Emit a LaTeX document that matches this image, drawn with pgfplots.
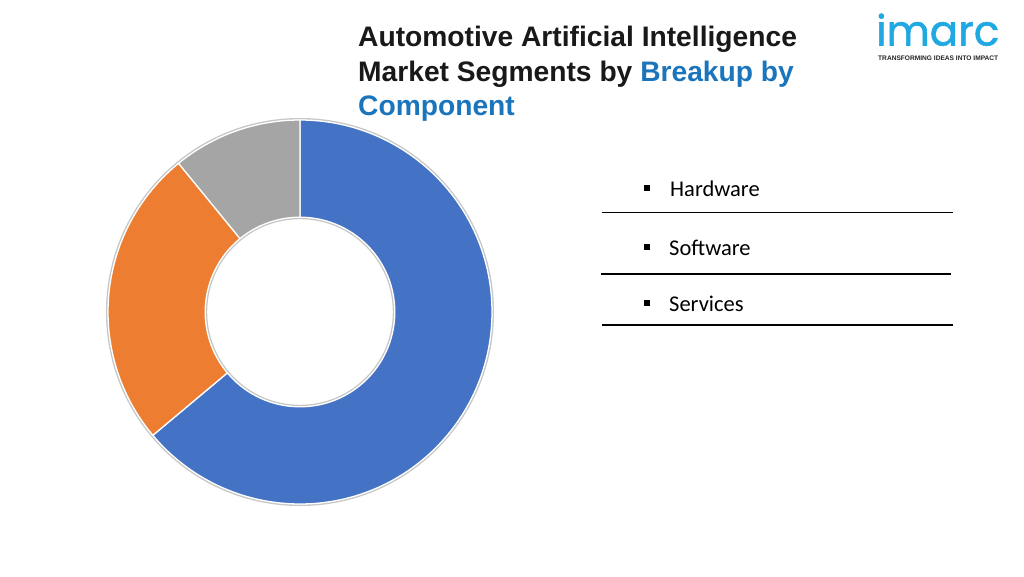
\documentclass[border=0pt]{standalone}
\usepackage{pgfplots}
\usepackage{pgfplotstable}
\pgfplotsset{compat=1.18}
\usepackage{fontspec}
\setmainfont{Liberation Sans}
\newfontfamily\legfont{Carlito}
\newfontfamily\logofont{Poppins}[FakeBold=1.3]

\definecolor{cHard}{HTML}{4472C4}
\definecolor{cSoft}{HTML}{ED7D31}
\definecolor{cServ}{HTML}{A5A5A5}
\definecolor{titleblue}{HTML}{1B75BC}
\definecolor{imarcblue}{HTML}{1FA8E1}

% share of each component, in percent, clockwise from 12 o'clock
\pgfplotstableread{
label    value color
Hardware 63.9  cHard
Software 25.2  cSoft
Services 10.9  cServ
}\segments

\begin{document}
\begin{tikzpicture}
\begin{axis}[
    scale only axis,
    width=1024bp, height=576bp,
    xmin=0, xmax=1024, ymin=0, ymax=576,
    y dir=reverse,   % pixel-like coordinates, origin top left
    hide axis, clip=false,
  ]
  \pgfplotsextra{
    \fill[white] (axis cs:0,0) rectangle (axis cs:1024,576);
    % donut
    \begin{scope}[shift={(axis cs:300,312)}]
      \draw[gray!45, line width=1.6bp] (0,0) circle (193.2bp);
      \draw[gray!45, line width=1.6bp] (0,0) circle (93.6bp);
      \xdef\startang{90}
      \foreach \i in {0,1,2} {
        \pgfplotstablegetelem{\i}{value}\of\segments
        \pgfmathsetmacro\endang{\startang-3.6*\pgfplotsretval}
        \pgfplotstablegetelem{\i}{color}\of\segments
        \edef\col{\pgfplotsretval}
        \fill[fill=\col, draw=white, line width=1.3bp]
          (\startang:192bp) arc[start angle=\startang, end angle=\endang, radius=192bp]
          -- (\endang:94.8bp) arc[start angle=\endang, end angle=\startang, radius=94.8bp]
          -- cycle;
        \xdef\startang{\endang}
      }
    \end{scope}
  }
  % title
  \node[anchor=base west, inner sep=0, text=black!90]
    at (axis cs:358,46.7) {\fontsize{28.2bp}{34bp}\selectfont\bfseries Automotive Artificial Intelligence};
  \node[anchor=base west, inner sep=0, text=black!90]
    at (axis cs:358,81.7) {\fontsize{28.2bp}{34bp}\selectfont\bfseries Market Segments by \textcolor{titleblue}{Breakup by}};
  \node[anchor=base west, inner sep=0, text=titleblue]
    at (axis cs:358,115) {\fontsize{28.2bp}{34bp}\selectfont\bfseries Component};
  % logo
  \node[anchor=base west, inner sep=0, text=imarcblue]
    at (axis cs:876,45.5) {\fontsize{42bp}{42bp}\selectfont\logofont imarc};
  \node[anchor=base west, inner sep=0, text=black!85]
    at (axis cs:878,61) {\fontsize{6.6bp}{7bp}\selectfont\bfseries TRANSFORMING IDEAS INTO IMPACT};
  % legend
  \fill[black] (axis cs:643.5,185) rectangle (axis cs:649.5,191);
  \fill[black] (axis cs:643.5,244) rectangle (axis cs:649.5,250);
  \fill[black] (axis cs:643.5,300) rectangle (axis cs:649.5,306);
  \node[anchor=base west, inner sep=0] at (axis cs:670,196) {\fontsize{22.5bp}{27bp}\selectfont\legfont Hardware};
  \node[anchor=base west, inner sep=0] at (axis cs:669,255) {\fontsize{22.5bp}{27bp}\selectfont\legfont Software};
  \node[anchor=base west, inner sep=0] at (axis cs:669,311.5) {\fontsize{22.5bp}{27bp}\selectfont\legfont Services};
  \draw[black, line width=1.3bp] (axis cs:602,212.3) -- (axis cs:953,212.3);
  \draw[black, line width=1.3bp] (axis cs:601,274) -- (axis cs:951,274);
  \draw[black, line width=1.3bp] (axis cs:602,325) -- (axis cs:953,325);
\end{axis}
\end{tikzpicture}
\end{document}
